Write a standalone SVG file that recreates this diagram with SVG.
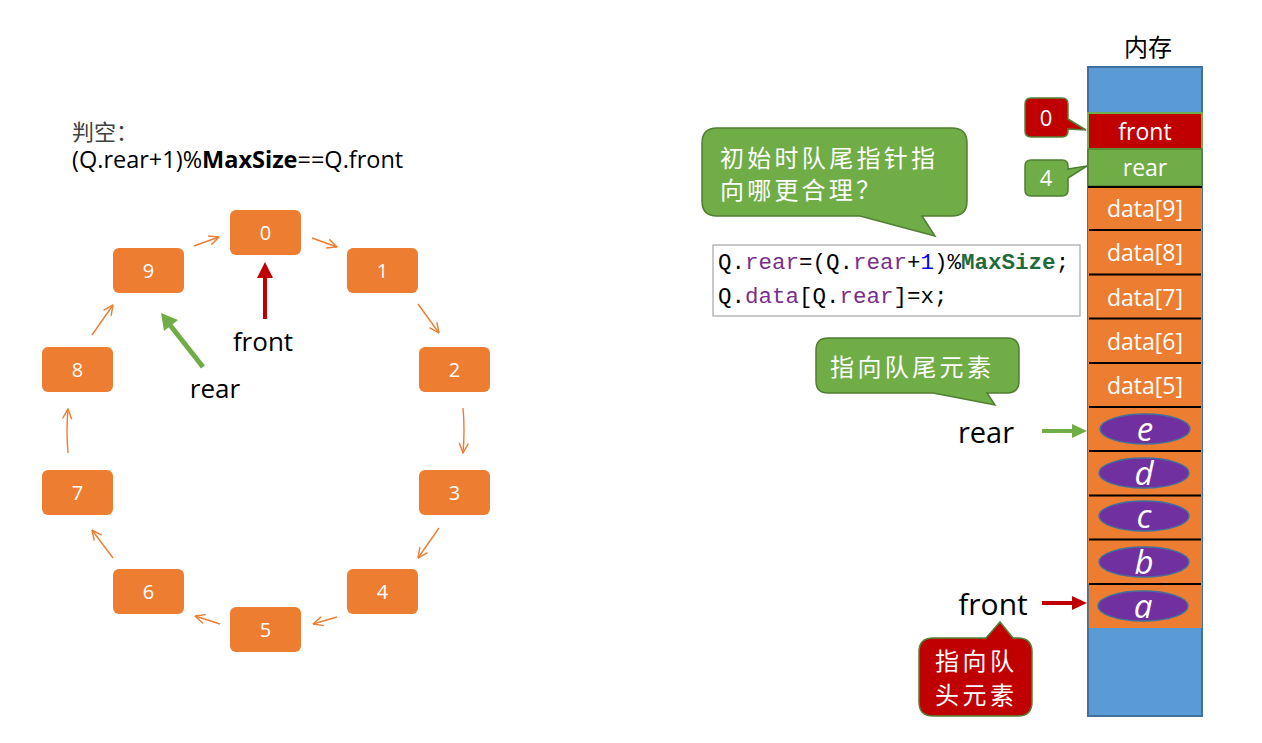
<svg xmlns="http://www.w3.org/2000/svg" width="1262" height="743" viewBox="0 0 1262 743">
<style>
.node rect{fill:#ED7D31;}
.nt{font-family:"Open Sans","Noto Sans",sans-serif;font-size:20px;fill:#fff;text-anchor:middle;}
.ring{stroke:#ED7D31;stroke-width:1.4;fill:none;marker-end:url(#v);}
.lbl{font-family:"Open Sans","Noto Sans",sans-serif;fill:#000;}
.cn{font-family:"Noto Sans CJK SC",sans-serif;fill:#fff;font-size:24px;}
.cell{font-family:"Open Sans","Noto Sans",sans-serif;fill:#fff;font-size:23px;text-anchor:middle;}
.div{stroke:#000;stroke-width:2;}
.ell{fill:#7030A0;stroke:#41719C;stroke-width:1.5;}
.let{font-family:"Open Sans","Noto Sans",sans-serif;font-style:italic;fill:#fff;font-size:33px;text-anchor:middle;}
.code{font-family:"Liberation Mono","DejaVu Sans Mono",monospace;font-size:22.5px;fill:#000;}
.kw{fill:#7B2D8E;}
</style>
<defs>
<marker id="v" viewBox="0 0 10 10" refX="9.5" refY="5" markerWidth="11" markerHeight="11" markerUnits="userSpaceOnUse" orient="auto">
<path d="M0.5,0.8 L9.5,5 L0.5,9.2" fill="none" stroke="#ED7D31" stroke-width="1.3"/>
</marker>
</defs>
<rect width="1262" height="743" fill="#fff"/>

<g id="title">
<text x="72" y="140" font-family="Noto Sans CJK SC,sans-serif" font-size="22" fill="#404040">判空：</text>
<text x="72" y="168" class="lbl" font-size="23.5">(Q.rear+1)%<tspan font-weight="bold">MaxSize</tspan>==Q.front</text>
</g>

<g id="connectors">
<path class="ring" d="M194,246 L219,237"/>
<path class="ring" d="M312,238 L337,247"/>
<path class="ring" d="M418,304 L439,333"/>
<path class="ring" d="M463,408 Q465,430 463,453"/>
<path class="ring" d="M439,528 L418,558"/>
<path class="ring" d="M337,617 L313,624"/>
<path class="ring" d="M220,624 L195,616"/>
<path class="ring" d="M113,558 L92,530"/>
<path class="ring" d="M68,453 Q66,431 68,409"/>
<path class="ring" d="M92,335 L113,305"/>
<line x1="265" y1="319" x2="265" y2="276" stroke="#C00000" stroke-width="4"/>
<polygon points="257,278 273,278 265,262" fill="#C00000"/>
<line x1="203" y1="367" x2="170" y2="325" stroke="#70AD47" stroke-width="5"/>
<polygon points="161,313 178,320 164,331" fill="#70AD47"/>
<line x1="1042" y1="431" x2="1073" y2="431" stroke="#70AD47" stroke-width="4"/>
<polygon points="1072,424 1087,431 1072,438" fill="#70AD47"/>
<line x1="1042" y1="603" x2="1073" y2="603" stroke="#C00000" stroke-width="4"/>
<polygon points="1072,596 1087,603 1072,610" fill="#C00000"/>
</g>

<g id="n0" class="node"><rect x="230" y="210" width="71" height="45" rx="6"/><text class="nt" x="265.5" y="240">0</text></g>
<g id="n1" class="node"><rect x="347" y="248" width="71" height="45" rx="6"/><text class="nt" x="382.5" y="278">1</text></g>
<g id="n2" class="node"><rect x="419" y="347" width="71" height="45" rx="6"/><text class="nt" x="454.5" y="377">2</text></g>
<g id="n3" class="node"><rect x="419" y="470" width="71" height="45" rx="6"/><text class="nt" x="454.5" y="500">3</text></g>
<g id="n4" class="node"><rect x="347" y="569" width="71" height="45" rx="6"/><text class="nt" x="382.5" y="599">4</text></g>
<g id="n5" class="node"><rect x="230" y="607" width="71" height="45" rx="6"/><text class="nt" x="265.5" y="637">5</text></g>
<g id="n6" class="node"><rect x="113" y="569" width="71" height="45" rx="6"/><text class="nt" x="148.5" y="599">6</text></g>
<g id="n7" class="node"><rect x="42" y="470" width="71" height="45" rx="6"/><text class="nt" x="77.5" y="500">7</text></g>
<g id="n8" class="node"><rect x="42" y="347" width="71" height="45" rx="6"/><text class="nt" x="77.5" y="377">8</text></g>
<g id="n9" class="node"><rect x="113" y="248" width="71" height="45" rx="6"/><text class="nt" x="148.5" y="278">9</text></g>

<g id="labels-left">
<text class="lbl" x="263" y="351" font-size="26" text-anchor="middle">front</text>
<text class="lbl" x="215" y="398" font-size="26" text-anchor="middle">rear</text>
</g>

<g id="memory">
<text x="1148" y="56" font-family="Noto Sans CJK SC,serif" font-size="24" fill="#000" text-anchor="middle">内存</text>
<rect x="1088" y="67" width="114" height="649" fill="#5B9BD5" stroke="#41719C" stroke-width="2"/>
<rect x="1088" y="113" width="114" height="36" fill="#C00000" stroke="#70AD47" stroke-width="2"/>
<text class="cell" x="1145" y="140">front</text>
<rect x="1088" y="149" width="114" height="37" fill="#70AD47" stroke="#548235" stroke-width="1.5"/>
<text class="cell" x="1145" y="176">rear</text>
<rect x="1088" y="186" width="114" height="442" fill="#ED7D31"/>
<text class="cell" x="1145" y="217">data[9]</text>
<text class="cell" x="1145" y="261">data[8]</text>
<text class="cell" x="1145" y="306">data[7]</text>
<text class="cell" x="1145" y="350">data[6]</text>
<text class="cell" x="1145" y="394">data[5]</text>
<line class="div" x1="1088" y1="187" x2="1202" y2="187"/>
<line class="div" x1="1089" y1="230" x2="1201" y2="230"/>
<line class="div" x1="1089" y1="274.5" x2="1201" y2="274.5"/>
<line class="div" x1="1089" y1="318.5" x2="1201" y2="318.5"/>
<line class="div" x1="1089" y1="363" x2="1201" y2="363"/>
<line class="div" x1="1089" y1="407" x2="1201" y2="407"/>
<line class="div" x1="1089" y1="451" x2="1201" y2="451"/>
<line class="div" x1="1089" y1="495.5" x2="1201" y2="495.5"/>
<line class="div" x1="1089" y1="539.5" x2="1201" y2="539.5"/>
<line class="div" x1="1089" y1="584" x2="1201" y2="584"/>
<line x1="1088" y1="584" x2="1088" y2="628" stroke="#41719C" stroke-width="1.5"/>
</g>

<g id="elem-e"><ellipse class="ell" cx="1145" cy="429" rx="45" ry="15"/><text class="let" x="1145" y="441">e</text></g>
<g id="elem-d"><ellipse class="ell" cx="1144" cy="473" rx="45" ry="15"/><text class="let" x="1144" y="485">d</text></g>
<g id="elem-c"><ellipse class="ell" cx="1144" cy="516" rx="45" ry="15"/><text class="let" x="1144" y="528">c</text></g>
<g id="elem-b"><ellipse class="ell" cx="1144" cy="562" rx="45" ry="15"/><text class="let" x="1144" y="574">b</text></g>
<g id="elem-a"><ellipse class="ell" cx="1143" cy="606" rx="45" ry="15"/><text class="let" x="1143" y="618">a</text></g>

<g id="callout-0">
<path d="M1031,98 H1062 Q1068,98 1068,104 V119 L1086,130 L1068,129 V131 Q1068,137 1062,137 H1031 Q1025,137 1025,131 V104 Q1025,98 1031,98 Z" fill="#C00000" stroke="#548235" stroke-width="1.5"/>
<text x="1046" y="126" font-family="Open Sans,sans-serif" font-size="22" fill="#fff" text-anchor="middle">0</text>
</g>
<g id="callout-4">
<path d="M1031,160 H1062 Q1068,160 1068,166 V169 L1087,166 L1068,178 V190 Q1068,196 1062,196 H1031 Q1025,196 1025,190 V166 Q1025,160 1031,160 Z" fill="#70AD47" stroke="#507E32" stroke-width="1.5"/>
<text x="1046" y="186" font-family="Open Sans,sans-serif" font-size="22" fill="#fff" text-anchor="middle">4</text>
</g>

<g id="callout-question">
<path d="M717,128 H952 Q967,128 967,143 V201 Q967,216 952,216 H922 L935,236 L860,216 H717 Q702,216 702,201 V143 Q702,128 717,128 Z" fill="#70AD47" stroke="#507E32" stroke-width="1.5"/>
<text class="cn" x="720" y="167" font-size="23" textLength="215" lengthAdjust="spacing">初始时队尾指针指</text>
<text class="cn" x="720" y="199" font-size="23" textLength="160" lengthAdjust="spacing">向哪更合理？</text>
</g>

<g id="code">
<rect x="713" y="245" width="367" height="71" fill="#fff" stroke="#A6A6A6" stroke-width="1.2"/>
<text class="code" x="718" y="269">Q.<tspan class="kw">rear</tspan>=(Q.<tspan class="kw">rear</tspan>+<tspan fill="#0000FF">1</tspan>)%<tspan fill="#1E6B3C" font-weight="bold">MaxSize</tspan>;</text>
<text class="code" x="718" y="303">Q.<tspan class="kw">data</tspan>[Q.<tspan class="kw">rear</tspan>]=x;</text>
</g>

<g id="callout-rear">
<path d="M828,338 H1007 Q1019,338 1019,350 V381 Q1019,393 1007,393 H987 L995,405 L933,393 H828 Q816,393 816,381 V350 Q816,338 828,338 Z" fill="#70AD47" stroke="#507E32" stroke-width="1.5"/>
<text class="cn" x="830" y="376" textLength="161" lengthAdjust="spacing">指向队尾元素</text>
</g>

<g id="labels-right">
<text class="lbl" x="986" y="443" font-size="29" text-anchor="middle">rear</text>
<text class="lbl" x="993" y="615" font-size="30" text-anchor="middle">front</text>
</g>

<g id="callout-front">
<path d="M933,638 H986 L1000,622 L1013,638 H1018 Q1032,638 1032,652 V702 Q1032,716 1018,716 H933 Q919,716 919,702 V652 Q919,638 933,638 Z" fill="#C00000" stroke="#548235" stroke-width="1.5"/>
<text class="cn" x="935" y="670" textLength="79" lengthAdjust="spacing">指向队</text>
<text class="cn" x="935" y="704" textLength="79" lengthAdjust="spacing">头元素</text>
</g>
</svg>
